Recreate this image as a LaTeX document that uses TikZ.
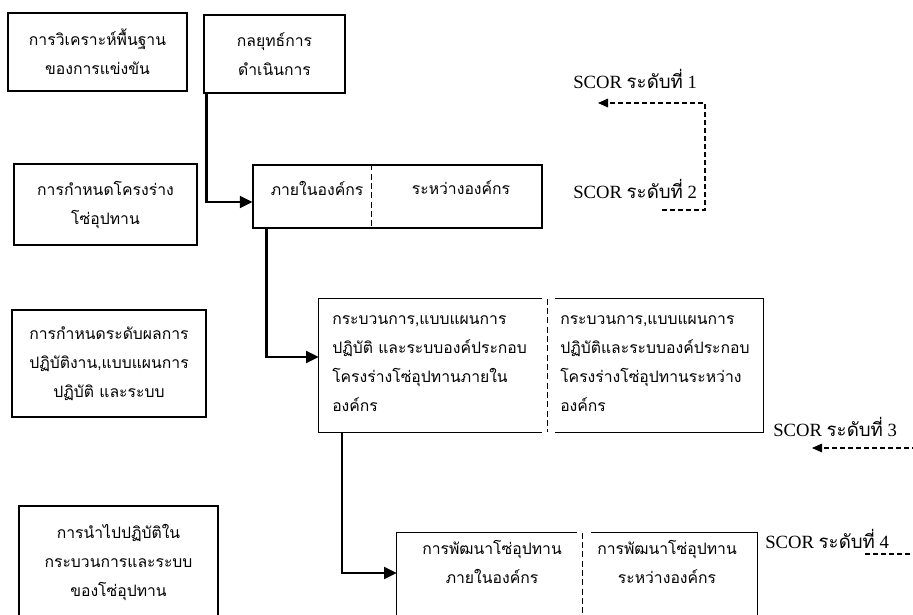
\documentclass[tikz,border=0pt]{standalone}
\usepackage{fontspec}
\setmainfont{Liberation Serif}
\newfontfamily\thaifont[Script=Thai]{Loma}
\usetikzlibrary{arrows.meta,calc}

% Thai body text used inside the boxes
\newcommand\thaitext{\thaifont\fontsize{11.8}{21.75}\selectfont}

\tikzset{
  box/.style={draw, line width=0.8pt, inner sep=0pt, align=center, font=\thaitext},
  frame/.style={inner sep=0pt},
  borderline/.style={line width=0.8pt},
  txt/.style={inner sep=0pt, font=\thaitext},
  divider/.style={line width=0.8pt, dash pattern=on 4.5pt off 2.5pt},
  arr/.style={line width=1.6pt, -{Triangle[length=9.5pt,width=9pt]}},
  scor/.style={inner sep=0pt, anchor=base west, font=\fontsize{14}{16}\selectfont},
  dashline/.style={line width=0.8pt, dash pattern=on 3.75pt off 2.25pt},
  dasharr/.style={dashline, -{Triangle[length=7.5pt,width=6.5pt]}}
}

\begin{document}
\begin{tikzpicture}[x=0.75pt,y=-0.75pt]
\path[use as bounding box, clip] (0,0) rectangle (913,614);

% left column: the four stages
\node[box, minimum width=134.25pt, minimum height=58.5pt] (A) at (97.5,52)
  {การวิเคราะห์พื้นฐาน\\ของการแข่งขัน};
\node[box, minimum width=137.25pt, minimum height=60.75pt] (F) at (105.5,204.5)
  {การกำหนดโครงร่าง\\โซ่อุปทาน};
\node[box, minimum width=145.5pt, minimum height=80.25pt] (G) at (109,363.5)
  {การกำหนดระดับผลการ\\ปฏิบัติงาน,แบบแผนการ\\ปฏิบัติ และระบบ};
\node[box, minimum width=149.25pt, minimum height=84pt] (H) at (118.5,562)
  {การนำไปปฏิบัติใน\\กระบวนการและระบบ\\ของโซ่อุปทาน};

% strategy box
\node[box, minimum width=105.75pt, minimum height=58.5pt] (B) at (274.5,54)
  {กลยุทธ์การ\\ดำเนินการ};

% level 2: internal / inter-organisation
\node[box, minimum width=216.75pt, minimum height=47.25pt] (C) at (397.5,196.5) {};
\draw[divider] ($(C.north west)+(119,0)$) -- ($(C.south west)+(119,0)$);
\node[txt] (C1) at (317,188) {ภายในองค์กร};
\node[txt] (C2) at (461,188) {ระหว่างองค์กร};

% level 3: processes, practices and systems
\node[frame, minimum width=333pt, minimum height=99.75pt] (D) at (541,365.5) {};
\draw[borderline] ($(D.north west)+(223,0)$) -| (D.south west) -- ++(223,0);
\draw[borderline] ($(D.north east)+(-208,0)$) -| (D.south east) -- ++(-208,0);
\draw[divider] ($(D.north west)+(229,0)$) -- ($(D.south west)+(229,0)$);
\node[txt, align=left, anchor=west] (D1) at (332,363.5)
  {กระบวนการ,แบบแผนการ\\ปฏิบัติ และระบบองค์ประกอบ\\โครงร่างโซ่อุปทานภายใน\\องค์กร};
\node[txt, align=left, anchor=west] (D2) at (560,363.5)
  {กระบวนการ,แบบแผนการ\\ปฏิบัติและระบบองค์ประกอบ\\โครงร่างโซ่อุปทานระหว่าง\\องค์กร};

% level 4: supply chain development
\node[frame, minimum width=270pt, minimum height=80.25pt] (E) at (577,586.5) {};
\draw[borderline] ($(E.north west)+(180,0)$) -| (E.south west) -- ++(180,0);
\draw[borderline] ($(E.north east)+(-166,0)$) -| (E.south east) -- ++(-166,0);
\draw[divider] ($(E.north west)+(186,0)$) -- ($(E.south west)+(186,0)$);
\node[txt, align=center] (E1) at (492,562) {การพัฒนาโซ่อุปทาน\\ภายในองค์กร};
\node[txt, align=center] (E2) at (667,562) {การพัฒนาโซ่อุปทาน\\ระหว่างองค์กร};

% flow arrows
\draw[arr] ($(B.south west)+(3,0)$) |- ($(C.west)+(0,5.5)$);
\draw[arr] ($(C.south west)+(14,0)$) |- ($(D.west)+(0,-8.5)$);
\draw[arr] ($(D.south west)+(23,0)$) |- ($(E.west)+(0,-13.5)$);

% SCOR levels
\node[scor] (S1) at (573,88) {SCOR {\thaifont ระดับที่} 1};
\node[scor] (S2) at (573,198) {SCOR {\thaifont ระดับที่} 2};
\node[scor] (S3) at (773,436) {SCOR {\thaifont ระดับที่} 3};
\node[scor] (S4) at (765,548) {SCOR {\thaifont ระดับที่} 4};

\coordinate (s2a) at (662,210);
\coordinate (s2b) at (705,210);
\coordinate (s1b) at (705,103);
\coordinate (s1a) at (598,103);
\draw[dasharr] (s2a) -- (s2b) -- (s1b) -- (s1a);

\coordinate (s3a) at (925,448);
\coordinate (s3b) at (812,448);
\draw[dasharr] (s3a) -- (s3b);

\coordinate (s4a) at (865,554);
\coordinate (s4b) at (925,554);
\draw[dashline] (s4a) -- (s4b);
\end{tikzpicture}
\end{document}
